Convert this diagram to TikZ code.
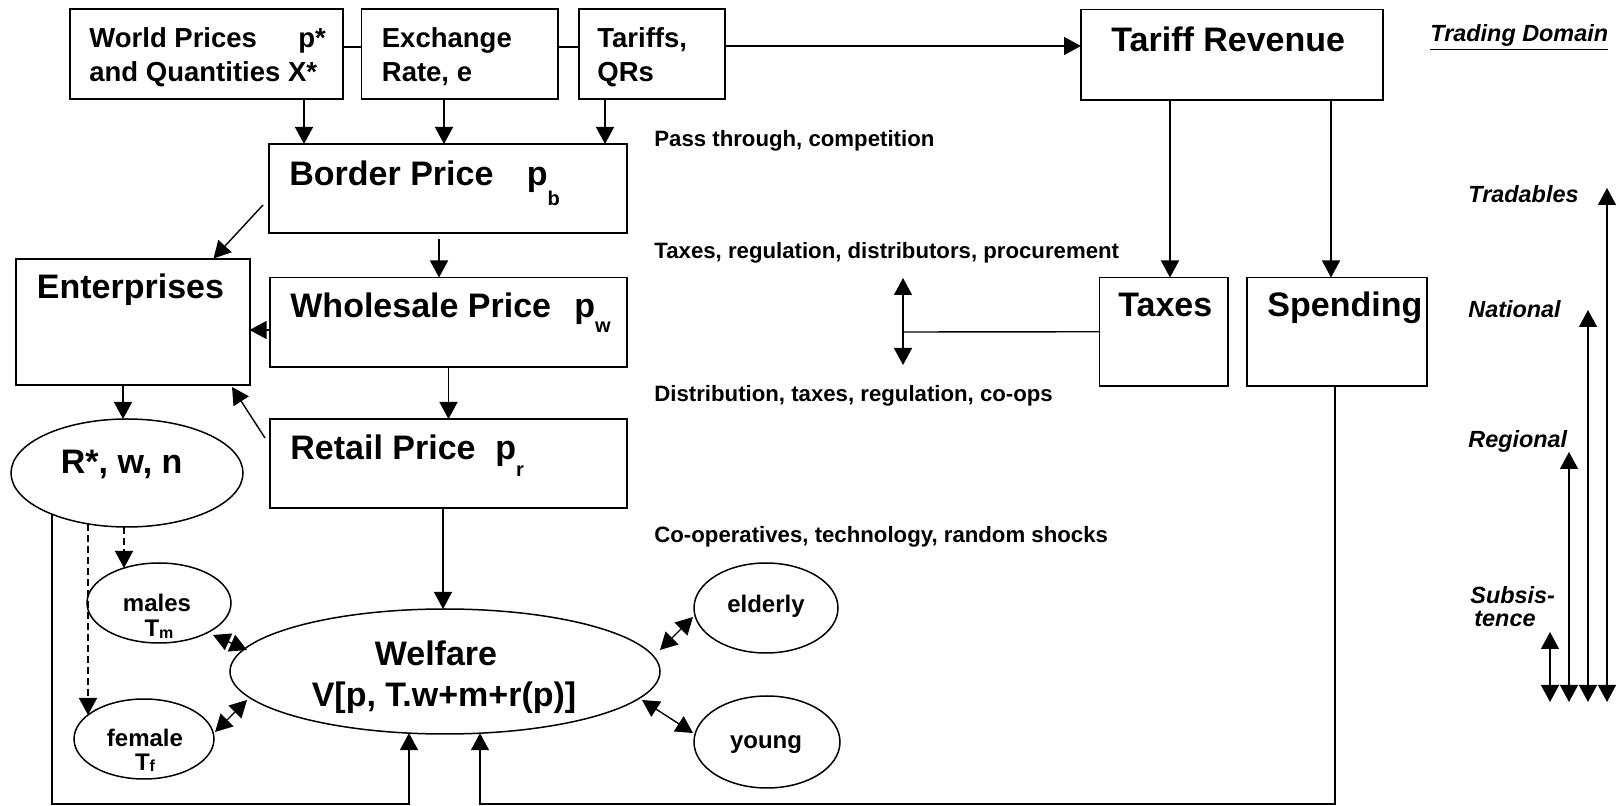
\documentclass[tikz,border=0pt]{standalone}
\usepackage{fontspec}
\setmainfont{Liberation Sans}
\usetikzlibrary{arrows.meta,calc,shapes.geometric}
\newcommand{\lowsub}[2]{\raisebox{-#1}{\fontsize{10}{12}\selectfont #2}}
\newcommand{\smsub}[1]{\raisebox{-0.8pt}{\fontsize{8}{9}\selectfont #1}}
\begin{document}
\begin{tikzpicture}[x=0.5pt,y=-0.5pt,
 bx/.style={draw,line width=0.9pt,inner sep=0,outer sep=0,anchor=north west},
 oval/.style={draw,ellipse,line width=0.75pt,inner sep=0,outer sep=0},
 tbig/.style={font=\fontsize{17}{20}\selectfont\bfseries,inner sep=0,anchor=base west},
 ttop/.style={font=\fontsize{13.75}{16}\selectfont\bfseries,inner sep=0,anchor=base west},
 tlab/.style={font=\fontsize{11.1}{13}\selectfont\bfseries,inner sep=0,anchor=base west},
 tsm/.style={font=\fontsize{12}{14}\selectfont\bfseries,inner sep=0,anchor=base},
 tdom/.style={font=\fontsize{11.7}{14}\selectfont\bfseries\itshape,inner sep=0,anchor=base west},
 con/.style={line width=0.7pt,-{Triangle[length=8.5pt,width=9pt]}},
 dbl/.style={line width=0.7pt,{Triangle[length=8.5pt,width=9pt]}-{Triangle[length=8.5pt,width=9pt]}},
 lnk/.style={line width=0.7pt},
 dsh/.style={line width=0.7pt,dash pattern=on 3.5pt off 2pt,-{Triangle[length=8.5pt,width=9pt]}}
]
\useasboundingbox (0,0) rectangle (1618,806);
\fill[white] (0,0) rectangle (1618,806);

% boxes
\node[bx,minimum width=136.5pt,minimum height=45pt] (world) at (70,9) {};
\node[bx,minimum width=98.25pt,minimum height=45pt] (exch) at (361.5,9) {};
\node[bx,minimum width=73pt,minimum height=45pt] (tar) at (579,9) {};
\node[bx,minimum width=151pt,minimum height=45.25pt] (trev) at (1081,9.5) {};
\node[bx,minimum width=179pt,minimum height=44.5pt] (bor) at (269,144) {};
\node[bx,minimum width=116.8pt,minimum height=63pt] (ent) at (16,259) {};
\node[bx,minimum width=178.5pt,minimum height=44.9pt] (whole) at (270,277.5) {};
\node[bx,minimum width=178.5pt,minimum height=44.5pt] (ret) at (270,419) {};
\node[bx,minimum width=64.25pt,minimum height=54.25pt] (taxes) at (1099.5,277.5) {};
\node[bx,minimum width=90pt,minimum height=54.25pt] (spend) at (1247,277.5) {};

% ellipses
\node[oval,minimum width=116pt,minimum height=54pt] (R) at (127,473) {};
\node[oval,minimum width=72pt,minimum height=40pt] (males) at (159,603) {};
\node[oval,minimum width=70pt,minimum height=40pt] (fem) at (144,739) {};
\node[oval,minimum width=215pt,minimum height=62.5pt] (W) at (445,671.5) {};
\node[oval,minimum width=72pt,minimum height=45pt] (eld) at (766,608) {};
\node[oval,minimum width=73pt,minimum height=46pt] (yng) at (767,742) {};

% texts in boxes
\node[ttop] (tw1) at (89,48) {World Prices};
\node[ttop] (tw1b) at (298,48) {p*};
\node[ttop] (tw2) at (89,82) {and Quantities X*};
\node[ttop] (te1) at (381.5,48) {Exchange};
\node[ttop] (te2) at (381.5,82) {Rate, e};
\node[ttop] (tt1) at (597,48) {Tariffs,};
\node[ttop] (tt2) at (597,82) {QRs};
\node[tbig] (ttr) at (1111,52) {Tariff Revenue};
\node[tbig] (tbor) at (289,186) {Border Price};
\node[tbig] (tborp) at (526.5,186) {p\lowsub{10pt}{b}};
\node[tbig] (tent) at (36.5,299) {Enterprises};
\node[tbig] (twh) at (290,318) {Wholesale Price};
\node[tbig] (twhp) at (574,318) {p\lowsub{7.5pt}{w}};
\node[tbig] (tret) at (290,460) {Retail Price};
\node[tbig] (tretp) at (495,460) {p\lowsub{8.5pt}{r}};
\node[tbig] (ttax) at (1118,317) {Taxes};
\node[tbig] (tspe) at (1267,317) {Spending};
\node[tbig,anchor=base] (tR) at (121.7,474) {R*, w, n};
\node[tbig,anchor=base] (tW1) at (436,666) {Welfare};
\node[tbig,anchor=base] (tW2) at (444,707) {V[p, T.w+m+r(p)]};
\node[tsm] (tm1) at (157,612) {males};
\node[tsm] (tm2) at (159,637) {T\smsub{m}};
\node[tsm] (tf1) at (145,747) {female};
\node[tsm] (tf2) at (145,770) {T\smsub{f}};
\node[tsm] (tel) at (766,613) {elderly};
\node[tsm] (tyo) at (766,748) {young};

% labels
\node[tlab] (l1) at (654,146.7) {Pass through, competition};
\node[tlab] (l2) at (654,259) {Taxes, regulation, distributors, procurement};
\node[tlab] (l3) at (654,402) {Distribution, taxes, regulation, co-ops};
\node[tlab] (l4) at (654,543) {Co-operatives, technology, random shocks};

% trading domain
\node[tdom] (td) at (1430,42) {\underline{Trading Domain}};
\node[tdom] (td1) at (1468,203) {Tradables};
\node[tdom] (td2) at (1468,318) {National};
\node[tdom] (td3) at (1468,448) {Regional};
\node[tdom] (td4) at (1470,604) {Subsis-};
\node[tdom] (td5) at (1474,627) {tence};

% connectors top row
\draw[lnk] ($(world.east)+(0,-7)$) -- ($(exch.west)+(0,-7)$);
\draw[lnk] ($(exch.east)+(0,-7)$) -- ($(tar.west)+(0,-7)$);
\draw[con] ($(tar.east)+(0,-8)$) -- ($(trev.west)+(0,-8.75)$);
\draw[con] ($(world.south)+(97.5,0)$) -- ($(bor.north)+(-144,0)$);
\draw[con] ($(exch.south)+(-15.75,0)$) -- ($(bor.north)+(-4,0)$);
\draw[con] ($(tar.south)+(-47,0)$) -- ($(bor.north)+(157,0)$);
\draw[con] ($(trev.south)+(-62,0)$) -- ($(taxes.north)+(6.25,0)$);
\draw[con] ($(trev.south)+(99,0)$) -- ($(spend.north)+(-6,0)$);

% price chain
\draw[con] ($(bor.north west)+(-6,61)$) -- ($(ent.north west)+(197.5,-0.5)$);
\draw[con] ($(bor.south)+(-9,6)$) -- ($(whole.north)+(-9.5,0)$);
\draw[con] ($(whole.west)+(0,7.6)$) -- ($(ent.east)+(0,8)$);
\draw[con] (whole.south) -- (ret.north);
\draw[con] ($(ret.north west)+(-5,19)$) -- ($(ent.south east)+(-17.6,2)$);
\draw[con] ($(ent.south)+(-9.8,0)$) -- ($(R.north)+(-4,0)$);
\draw[con] ($(ret.south)+(-5.5,0)$) -- ($(W.north)+(-2,0)$);

% taxes double arrow
\coordinate (dmid) at (903,332);
\coordinate (dtop) at (903,278);
\coordinate (dbot) at (903,365);
\draw[lnk] (taxes.west) -- (dmid);
\draw[dbl] (dtop) -- (dbot);

% feedback lines
\draw[con] ($(R.center)+(-75,41)$) -- ($(R.center)+(-75,331)$) -- ($(W.center)+(-36,132.5)$) -- ($(W.center)+(-36,61.6)$);
\draw[con] ($(spend.south)+(-2,0)$) -- ($(spend.south)+(-2,418)$) -- ($(W.center)+(35,132.5)$) -- ($(W.center)+(35,61.7)$);

% dashed
\draw[dsh] ($(R.center)+(-3,54)$) -- ($(males.center)+(-35,-35)$);
\draw[dsh] ($(R.center)+(-39,50.8)$) -- ($(fem.center)+(-56,-24)$);

% group arrows
\draw[dbl] ($(males.center)+(54,32)$) -- ($(W.center)+(-198,-21.5)$);
\draw[dbl] ($(fem.center)+(71,-7)$) -- ($(W.center)+(-198,28.5)$);
\draw[dbl] ($(W.center)+(215,-21.5)$) -- ($(eld.center)+(-73,9)$);
\draw[dbl] ($(W.center)+(197,28.5)$) -- ($(yng.center)+(-74,-9)$);

% trading domain arrows
\coordinate (a1t) at (1607,188); \coordinate (a1b) at (1607,702);
\coordinate (a2t) at (1588,310); \coordinate (a2b) at (1588,702);
\coordinate (a3t) at (1569,452); \coordinate (a3b) at (1569,702);
\coordinate (a4t) at (1550,632); \coordinate (a4b) at (1550,702);
\draw[dbl] (a1b) -- (a1t);
\draw[dbl] (a2b) -- (a2t);
\draw[dbl] (a3b) -- (a3t);
\draw[dbl] (a4b) -- (a4t);
\end{tikzpicture}
\end{document}
